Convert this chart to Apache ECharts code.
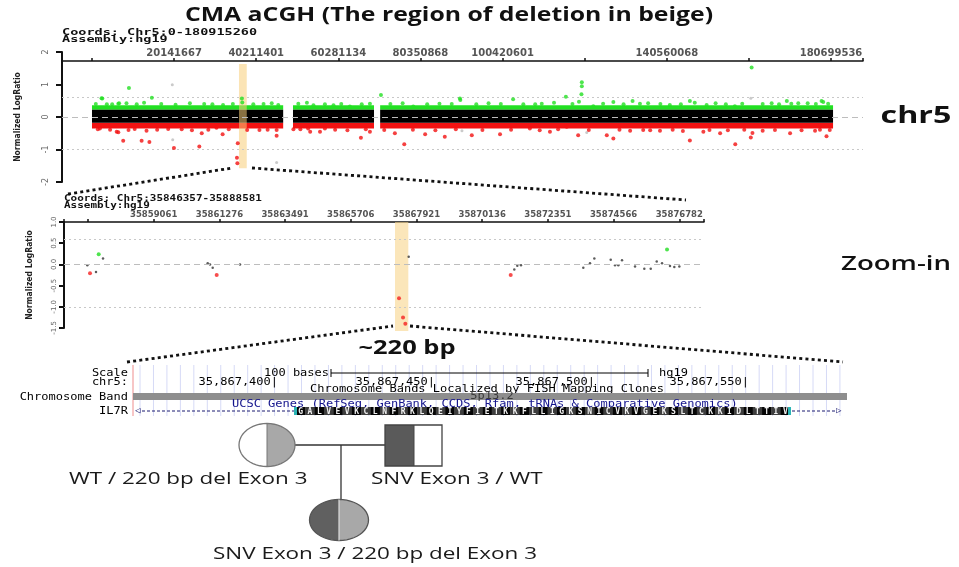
<!DOCTYPE html>
<html><head><meta charset="utf-8">
<script src="https://cdn.jsdelivr.net/npm/echarts@6/dist/echarts.min.js"></script>
<style>html,body{margin:0;padding:0;background:#fff}#c{width:959px;height:567px}</style>
</head><body><div id="c"></div>
<script>
// ---------------- DATA ----------------
// Whole chromosome 5 panel (positions in Mb, values = normalized log ratio)
const chrRange = [-7.2607, 188.521];
const chrTickPos = [0.071933, 20.141667, 40.211401, 60.281134, 80.350868, 100.420601, 120.490334, 140.560068, 160.629802, 180.699536];
const chrTickLabels = ['', '20141667', '40211401', '60281134', '80350868', '100420601', '', '140560068', '', '180699536'];
const chrSegments = [[0.07, 46.8], [49.2, 69.0], [70.5, 181.2]];
const blackBand = [-0.18, 0.22];
const greenBand = [0.22, 0.36];
const redBand = [-0.35, -0.18];
const chrGreen = [[2.4,0.58],[2.6,0.57],[3.7,0.39],[6.5,0.41],[6.7,0.42],[9.1,0.89],[12.8,0.44],[14.7,0.59],[32.1,0.37],[36.7,0.57],[36.8,0.45],[39.5,0.39],[45.6,0.37],[52.6,0.44],[54.2,0.36],[59.1,0.36],[63.1,0.32],[70.7,0.68],[78.6,0.32],[90.0,0.57],[90.1,0.52],[103.0,0.55],[108.4,0.39],[113.0,0.44],[115.9,0.62],[119.1,0.47],[119.8,1.07],[119.8,0.95],[119.7,0.7],[122.6,0.33],[127.5,0.46],[132.2,0.49],[136.0,0.42],[141.3,0.37],[146.2,0.49],[147.4,0.44],[150.3,0.37],[157.2,0.33],[161.3,1.52],[166.2,0.42],[169.9,0.49],[172.7,0.42],[178.4,0.49],[178.8,0.46],
  [1.0,0.40],[5.0,0.39],[8.5,0.42],[11.0,0.39],[17.0,0.40],[20.5,0.38],[24.0,0.42],[27.5,0.40],[29.5,0.39],[34.5,0.40],[42.0,0.40],[44.0,0.42],[50.5,0.41],[57.0,0.39],[61.0,0.40],[66.0,0.39],[68.0,0.41],[73.0,0.40],[76.0,0.42],[82.0,0.39],[85.0,0.41],[88.0,0.40],[94.0,0.39],[97.0,0.42],[100.0,0.40],[105.5,0.39],[110.0,0.41],[117.5,0.40],[125.0,0.41],[130.0,0.39],[134.0,0.41],[139.0,0.40],[144.0,0.39],[152.5,0.42],[155.0,0.39],[159.0,0.41],[164.0,0.40],[168.0,0.39],[171.0,0.41],[175.0,0.42],[177.0,0.40],[180.0,0.41]];
const chrRed = [[2.0,-0.35],[6.1,-0.45],[6.5,-0.47],[7.7,-0.73],[12.2,-0.73],[13.4,-0.42],[14.1,-0.77],[18.7,-0.37],[20.1,-0.95],[26.3,-0.91],[26.9,-0.5],[30.5,-0.33],[32.0,-0.53],[35.7,-0.81],[35.5,-1.25],[35.6,-1.42],[41.0,-0.4],[45.2,-0.58],[45.2,-0.4],[49.3,-0.38],[52.9,-0.35],[53.4,-0.45],[55.8,-0.45],[57.0,-0.35],[65.8,-0.64],[68.0,-0.45],[74.1,-0.5],[76.4,-0.84],[81.5,-0.53],[86.3,-0.61],[92.9,-0.56],[99.8,-0.53],[107.1,-0.35],[112.0,-0.45],[116.1,-0.3],[118.9,-0.56],[125.9,-0.56],[127.5,-0.66],[131.6,-0.42],[134.8,-0.4],[138.9,-0.42],[146.2,-0.72],[149.5,-0.45],[153.6,-0.5],[157.3,-0.84],[161.1,-0.63],[161.5,-0.49],[170.7,-0.5],[176.8,-0.42],[179.6,-0.59],[180.4,-0.4],
  [1.5,-0.38],[4.5,-0.39],[9.0,-0.40],[10.5,-0.37],[16.0,-0.39],[22.0,-0.38],[24.5,-0.41],[28.5,-0.39],[33.5,-0.38],[38.0,-0.40],[43.0,-0.39],[51.0,-0.38],[59.5,-0.39],[62.5,-0.41],[67.0,-0.38],[71.5,-0.40],[78.5,-0.39],[84.0,-0.41],[89.0,-0.38],[95.5,-0.40],[102.5,-0.39],[109.5,-0.41],[114.0,-0.38],[121.5,-0.40],[129.0,-0.39],[136.5,-0.41],[142.0,-0.39],[144.5,-0.43],[151.0,-0.40],[155.5,-0.41],[159.5,-0.39],[164.0,-0.42],[167.0,-0.40],[173.5,-0.41],[178.0,-0.39]];
const chrGray = [[19.7,0.99],[19.8,-0.70],[45.2,-1.4],[161.1,0.58],[90.5,-0.42],[121.0,-0.48]];
const chrDeletion = [36.0, 37.9, -1.58, 1.63];
const refLevels = [0.6, -1];

// Zoom-in panel (positions in bp)
const zoomRange = [35856037, 35877615];
const zoomTickPos = [35856846, 35859061, 35861276, 35863491, 35865706, 35867921, 35870136, 35872351, 35874566, 35876782];
const zoomTickLabels = ['', '35859061', '35861276', '35863491', '35865706', '35867921', '35870136', '35872351', '35874566', '35876782'];
const zoomBlack = [[35856823,-0.02],[35857116,-0.18],[35857352,0.14],[35860882,0.03],[35860960,0.0],[35861050,-0.08],[35861971,0.0],[35867658,0.18],[35871219,-0.12],[35871320,-0.03],[35871444,-0.02],[35873545,-0.08],[35873771,0.03],[35873917,0.14],[35874470,0.11],[35874615,-0.02],[35874726,-0.02],[35874851,0.1],[35875290,-0.05],[35875603,-0.1],[35875819,-0.1],[35876021,0.07],[35876200,0.03],[35876469,-0.04],[35876615,-0.06],[35876783,-0.05]];
const zoomRed = [[35856914,-0.21],[35861185,-0.25],[35867332,-0.8],[35867467,-1.25],[35867545,-1.4],[35871098,-0.25]];
const zoomGreen = [[35857207,0.24],[35876368,0.35]];
const zoomDeletion = [35867197, 35867646, -1.57, 1.0];

// UCSC track text
const il7rAminoAcids = 'GALVEVKCLNFRKLQEIYFIETKKFLLIGKSNICVKVGEKSLTCKKIDLTTIV';
const chrPosLabels = ['35,867,400|', '35,867,450|', '35,867,500|', '35,867,550|'];

// Pedigree labels
const pedigreeLabels = ['WT / 220 bp del Exon 3', 'SNV Exon 3 / WT', 'SNV Exon 3 / 220 bp del Exon 3'];

// ---------------- CHART ----------------
const chart = echarts.init(document.getElementById('c'));
const MONO = '"DejaVu Sans Mono", "Liberation Mono", monospace';
const SANS = '"Open Sans", "Noto Sans", sans-serif';

function nearestLabel(pos, labels) {
  return function (v) {
    let b = 0;
    for (let i = 1; i < pos.length; i++) if (Math.abs(pos[i] - v) < Math.abs(pos[b] - v)) b = i;
    return labels[b];
  };
}
function rectItem(params, api) {
  const p1 = api.coord([api.value(0), api.value(3)]);
  const p2 = api.coord([api.value(1), api.value(2)]);
  return { type: 'rect', shape: { x: p1[0], y: p1[1], width: p2[0] - p1[0], height: p2[1] - p1[1] }, style: { fill: api.visual('color') } };
}
function bandData(lv) { return chrSegments.map(s => [s[0], s[1], lv[0], lv[1]]); }

function T(x, y, text, font, fill, align, vAlign, extra) {
  return Object.assign({
    type: 'text', x: x, y: y, silent: true,
    style: { text: text, x: 0, y: 0, font: font, fill: fill || '#000', align: align || 'left', textAlign: align || 'left', verticalAlign: vAlign || 'middle', textVerticalAlign: vAlign || 'middle' }
  }, extra || {});
}
function L(x1, y1, x2, y2, stroke, w, dash) {
  return { type: 'line', silent: true, shape: { x1, y1, x2, y2 }, style: { stroke, lineWidth: w || 1, lineDash: dash || null } };
}
function ellipsePts(cx, cy, rx, ry, a0, a1) {
  const pts = [];
  for (let i = 0; i <= 48; i++) { const a = a0 + (a1 - a0) * i / 48; pts.push([cx + rx * Math.cos(a), cy + ry * Math.sin(a)]); }
  return pts;
}
function halfEllipse(cx, cy, rx, ry, side, fill) {
  const pts = side === 'right' ? ellipsePts(cx, cy, rx, ry, -Math.PI / 2, Math.PI / 2) : ellipsePts(cx, cy, rx, ry, Math.PI / 2, 3 * Math.PI / 2);
  return { type: 'polygon', silent: true, shape: { points: pts }, style: { fill: fill } };
}
function ellipseOutline(cx, cy, rx, ry, stroke, w) {
  return { type: 'polygon', silent: true, shape: { points: ellipsePts(cx, cy, rx, ry, 0, 2 * Math.PI) }, style: { fill: null, stroke: stroke, lineWidth: w } };
}

const g = [];
// titles
g.push(T(449, 16, 'CMA aCGH (The region of deletion in beige)', 'bold 19px ' + SANS, '#111', 'center', 'middle', { scaleX: 1.305 }));
g.push(T(916, 116, 'chr5', 'bold 23px ' + SANS, '#111', 'center', 'middle', { scaleX: 1.4 }));
g.push(T(896, 264, 'Zoom-in', '600 20px ' + SANS, '#111', 'center', 'middle', { scaleX: 1.38 }));
g.push(T(407, 349, '~220 bp', 'bold 19px ' + SANS, '#111', 'center', 'middle', { scaleX: 1.34 }));
// coords
g.push(T(62, 33, 'Coords: Chr5:0-180915260', 'bold 9px ' + MONO, '#111', 'left', 'middle', { scaleX: 1.5 }));
g.push(T(62, 40, 'Assembly:hg19', 'bold 9px ' + MONO, '#111', 'left', 'middle', { scaleX: 1.5 }));
g.push(T(64, 199, 'Coords: Chr5:35846357-35888581', 'bold 8px ' + MONO, '#111', 'left', 'middle', { scaleX: 1.37 }));
g.push(T(64, 205.5, 'Assembly:hg19', 'bold 8px ' + MONO, '#111', 'left', 'middle', { scaleX: 1.37 }));
// zoom connector dotted lines
const dot = [3, 3.2];
g.push(L(68, 194, 232, 168, '#111', 2.8, dot));
g.push(L(252, 168, 686, 200, '#111', 2.8, dot));
g.push(L(127, 362, 393, 326, '#111', 2.8, dot));
g.push(L(410, 326, 843, 362, '#111', 2.8, dot));

// UCSC track
for (let i = 0; i <= 52; i++) { const x = 140 + i * 13.46; g.push(L(x, 365, x, 416, '#d6daf6', 1)); }
g.push(L(133, 365, 133, 416, '#f2a0a0', 1.2));
const UF = '10px ' + MONO;
const us = { scaleX: 1.2 };
g.push(T(128, 373, 'Scale', UF, '#000', 'right', 'middle', us));
g.push(T(128, 382, 'chr5:', UF, '#000', 'right', 'middle', us));
g.push(T(128, 397, 'Chromosome Band', UF, '#000', 'right', 'middle', us));
g.push(T(128, 411, 'IL7R', UF, '#000', 'right', 'middle', us));
g.push(T(329, 373, '100 bases', UF, '#000', 'right', 'middle', us));
g.push(L(331, 373, 648, 373, '#000', 1));
g.push(L(331, 369, 331, 377, '#000', 1));
g.push(L(648, 369, 648, 377, '#000', 1));
g.push(T(659, 373, 'hg19', UF, '#000', 'left', 'middle', us));
[278, 435, 595, 749].forEach((x, i) => g.push(T(x, 382, chrPosLabels[i], UF, '#000', 'right', 'middle', us)));
g.push(T(310, 389, 'Chromosome Bands Localized by FISH Mapping Clones', UF, '#000', 'left', 'middle', us));
g.push({ type: 'rect', silent: true, shape: { x: 133, y: 393, width: 714, height: 7 }, style: { fill: '#8e8e8e' } });
g.push(T(492, 396, '5p13.2', UF, '#3a3a3a', 'center', 'middle', us));
g.push(T(232, 404, 'UCSC Genes (RefSeq, GenBank, CCDS, Rfam, tRNAs & Comparative Genomics)', UF, '#14148c', 'left', 'middle', us));
g.push(L(142, 411, 296, 411, '#1a1a70', 1, [3, 2]));
g.push(L(792, 411, 836, 411, '#1a1a70', 1, [3, 2]));
g.push(T(135, 411, '\u25C1', '9px ' + MONO, '#1a1a70', 'left'));
g.push(T(836, 411, '\u25B7', '9px ' + MONO, '#1a1a70', 'left'));
const aaW = (790 - 296) / il7rAminoAcids.length;
for (let i = 0; i < il7rAminoAcids.length; i++) {
  const x = 296 + i * aaW;
  g.push({ type: 'rect', silent: true, shape: { x: x, y: 407, width: aaW + 0.3, height: 8 }, style: { fill: i % 2 ? '#3e3e3e' : '#050505' } });
  g.push(T(x + aaW / 2, 411.5, il7rAminoAcids[i], 'bold 8px ' + MONO, '#f2f2f2', 'center'));
}
g.push({ type: 'rect', silent: true, shape: { x: 294, y: 407, width: 3, height: 8 }, style: { fill: '#2bb5b5' } });
g.push({ type: 'rect', silent: true, shape: { x: 788, y: 407, width: 3, height: 8 }, style: { fill: '#2bb5b5' } });

// Pedigree
g.push(L(295, 445, 385, 445, '#333', 1.3));
g.push(L(341, 445, 341, 500, '#333', 1.3));
g.push(halfEllipse(267, 445, 28, 21.5, 'left', '#ffffff'));
g.push(halfEllipse(267, 445, 28, 21.5, 'right', '#a8a8a8'));
g.push(ellipseOutline(267, 445, 28, 21.5, '#777', 1.3));
g.push(L(267, 423.5, 267, 466.5, '#777', 1));
g.push({ type: 'rect', silent: true, shape: { x: 385, y: 425, width: 29, height: 41 }, style: { fill: '#5a5a5a' } });
g.push({ type: 'rect', silent: true, shape: { x: 414, y: 425, width: 28, height: 41 }, style: { fill: '#fff' } });
g.push({ type: 'rect', silent: true, shape: { x: 385, y: 425, width: 57, height: 41 }, style: { fill: null, stroke: '#444', lineWidth: 1.3 } });
g.push(L(414, 425, 414, 466, '#444', 1));
g.push(halfEllipse(339, 520, 29.5, 20.5, 'left', '#606060'));
g.push(halfEllipse(339, 520, 29.5, 20.5, 'right', '#a8a8a8'));
g.push(ellipseOutline(339, 520, 29.5, 20.5, '#555', 1.3));
g.push(L(339, 499.5, 339, 540.5, '#ddd', 1.2));
const PF = '16.5px ' + SANS;
g.push(T(69, 479, pedigreeLabels[0], PF, '#1a1a1a', 'left', 'middle', { scaleX: 1.36 }));
g.push(T(371, 479, pedigreeLabels[1], PF, '#1a1a1a', 'left', 'middle', { scaleX: 1.36 }));
g.push(T(213, 554, pedigreeLabels[2], PF, '#1a1a1a', 'left', 'middle', { scaleX: 1.36 }));

const yName = { fontFamily: '"Liberation Sans Narrow", "DejaVu Sans Condensed", sans-serif', fontWeight: 'bold', fontSize: 8.5, color: '#222' };
const refLines = (ref) => ({
  symbol: 'none', silent: true, label: { show: false }, animation: false,
  data: [
    { yAxis: 0, lineStyle: { type: [6, 4], color: '#bdbdbd', width: 1 } },
    { yAxis: ref[0], lineStyle: { type: [2, 3], color: '#c8c8c8', width: 1 } },
    { yAxis: ref[1], lineStyle: { type: [2, 3], color: '#c8c8c8', width: 1 } }
  ]
});

chart.setOption({
  animation: false,
  backgroundColor: '#fff',
  grid: [
    { left: 62, top: 52, width: 801, height: 130 },
    { left: 62, top: 61, width: 801, height: 121 },
    { left: 64, top: 222, width: 640, height: 106 }
  ],
  xAxis: [
    { gridIndex: 0, type: 'value', min: chrRange[0], max: chrRange[1], show: false },
    { gridIndex: 1, type: 'value', position: 'top', min: chrRange[0], max: chrRange[1],
      axisLine: { show: true, onZero: false, lineStyle: { color: '#111', width: 1.5 } },
      axisTick: { show: true, length: 3, customValues: [chrRange[0]].concat(chrTickPos, [chrRange[1]]), lineStyle: { color: '#111', width: 1.5 } },
      axisLabel: { show: true, customValues: chrTickPos, formatter: nearestLabel(chrTickPos, chrTickLabels), fontFamily: 'DejaVu Sans', fontWeight: 'bold', fontSize: 10, color: '#555', margin: 3 },
      splitLine: { show: false } },
    { gridIndex: 2, type: 'value', position: 'top', min: zoomRange[0], max: zoomRange[1],
      axisLine: { show: true, onZero: false, lineStyle: { color: '#111', width: 1.5 } },
      axisTick: { show: true, length: 3, customValues: [zoomRange[0]].concat(zoomTickPos, [zoomRange[1]]), lineStyle: { color: '#111', width: 1.5 } },
      axisLabel: { show: true, customValues: zoomTickPos, formatter: nearestLabel(zoomTickPos, zoomTickLabels), fontFamily: 'DejaVu Sans', fontWeight: 'bold', fontSize: 8.5, color: '#555', margin: 3 },
      splitLine: { show: false } }
  ],
  yAxis: [
    { gridIndex: 0, type: 'value', min: -2, max: 2, interval: 1,
      name: 'Normalized LogRatio', nameLocation: 'middle', nameRotate: 90, nameGap: 40, nameTextStyle: yName,
      axisLine: { show: true, onZero: false, lineStyle: { color: '#111', width: 2 } },
      axisTick: { show: true, length: 6, lineStyle: { color: '#111', width: 2 } },
      axisLabel: { rotate: 90, fontSize: 8, color: '#666', fontFamily: 'DejaVu Sans', margin: 12 },
      splitLine: { show: false } },
    { gridIndex: 1, type: 'value', min: 0, max: 1, show: false },
    { gridIndex: 2, type: 'value', min: -1.5, max: 1, interval: 0.5,
      name: 'Normalized LogRatio', nameLocation: 'middle', nameRotate: 90, nameGap: 30, nameTextStyle: yName,
      axisLine: { show: true, onZero: false, lineStyle: { color: '#111', width: 2 } },
      axisTick: { show: true, length: 5, lineStyle: { color: '#111', width: 2 } },
      axisLabel: { rotate: 90, fontSize: 7, color: '#666', fontFamily: 'DejaVu Sans', margin: 6, formatter: v => v.toFixed(1) },
      splitLine: { show: false } }
  ],
  series: [
    { type: 'scatter', xAxisIndex: 0, yAxisIndex: 0, data: chrGray, symbolSize: 3, itemStyle: { color: '#bdbdbd' }, z: 1, markLine: refLines(refLevels), silent: true },
    { type: 'custom', xAxisIndex: 0, yAxisIndex: 0, renderItem: rectItem, data: bandData(greenBand), itemStyle: { color: '#22e022' }, encode: { x: [0, 1], y: [2, 3] }, z: 2, silent: true },
    { type: 'custom', xAxisIndex: 0, yAxisIndex: 0, renderItem: rectItem, data: bandData(redBand), itemStyle: { color: '#f21212' }, encode: { x: [0, 1], y: [2, 3] }, z: 2, silent: true },
    { type: 'custom', xAxisIndex: 0, yAxisIndex: 0, renderItem: rectItem, data: bandData(blackBand), itemStyle: { color: '#000' }, encode: { x: [0, 1], y: [2, 3] }, z: 3, silent: true },
    { type: 'custom', xAxisIndex: 0, yAxisIndex: 0, renderItem: rectItem, data: [chrDeletion], itemStyle: { color: 'rgba(247,205,120,0.55)' }, encode: { x: [0, 1], y: [2, 3] }, z: 4, silent: true },
    { type: 'scatter', xAxisIndex: 0, yAxisIndex: 0, data: chrGreen, symbolSize: 4, itemStyle: { color: '#22e022' }, z: 5, silent: true },
    { type: 'scatter', xAxisIndex: 0, yAxisIndex: 0, data: chrRed, symbolSize: 4, itemStyle: { color: '#f21212' }, z: 5, silent: true },

    { type: 'custom', xAxisIndex: 2, yAxisIndex: 2, renderItem: rectItem, data: [zoomDeletion], itemStyle: { color: 'rgba(248,214,140,0.6)' }, encode: { x: [0, 1], y: [2, 3] }, z: 2, silent: true, clip: false },
    { type: 'scatter', xAxisIndex: 2, yAxisIndex: 2, data: zoomBlack, symbolSize: 2.5, itemStyle: { color: '#333' }, z: 3, markLine: refLines(refLevels), silent: true },
    { type: 'scatter', xAxisIndex: 2, yAxisIndex: 2, data: zoomRed, symbolSize: 4, itemStyle: { color: '#f52020' }, z: 3, silent: true },
    { type: 'scatter', xAxisIndex: 2, yAxisIndex: 2, data: zoomGreen, symbolSize: 4, itemStyle: { color: '#22dd22' }, z: 3, silent: true }
  ],
  graphic: { elements: g }
});
</script></body></html>
